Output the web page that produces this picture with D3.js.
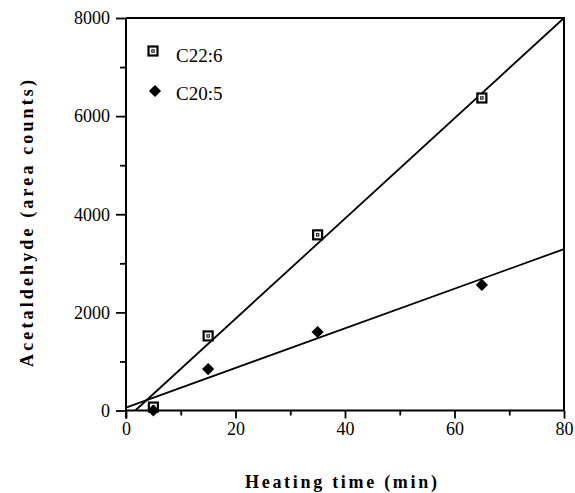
<!DOCTYPE html>
<html>
<head>
<meta charset="utf-8">
<script src="https://cdn.jsdelivr.net/npm/d3@7"></script>
<style>
  body { margin: 0; background: #fff; }
</style>
</head>
<body>
<div id="chart"></div>
<script>
// heating time (min)
const times = [5, 15, 35, 65];
// acetaldehyde area counts
const c22 = [70, 1520, 3580, 6370];
const c20 = [0, 845, 1600, 2560];
// fitted lines (endpoints)
const fitC22 = [[1.7, 0], [80, 8000]];
const fitC20 = [[0, 60], [80, 3290]];

const xTicks = [0, 20, 40, 60, 80];
const xMinor = [10, 30, 50, 70];
const yTicks = [0, 2000, 4000, 6000, 8000];
const yMinor = [1000, 3000, 5000, 7000];
const seriesNames = ["C22:6", "C20:5"];

const width = 575, height = 493;
const serif = "Times New Roman, Times, Liberation Serif, Tinos, DejaVu Serif, Noto Serif, serif";
const x = d3.scaleLinear().domain([0, 80]).range([126, 564]);
const y = d3.scaleLinear().domain([0, 8000]).range([410.5, 18]);

const svg = d3.select("#chart").append("svg")
    .attr("width", width)
    .attr("height", height);

// frame (top + right)
svg.append("path")
    .attr("d", `M${x(0)},${y(8000)}H${x(80)}V${y(0)}`)
    .attr("fill", "none")
    .attr("stroke", "#000")
    .attr("stroke-width", 2);

const xAxis = svg.append("g")
    .attr("transform", `translate(0,${y(0)})`)
    .call(d3.axisBottom(x).tickValues(xTicks).tickSize(8).tickPadding(4).tickFormat(d3.format("d")));
svg.append("g")
    .attr("transform", `translate(0,${y(0)})`)
    .call(d3.axisBottom(x).tickValues(xMinor).tickSize(5).tickFormat(""))
    .call(g => g.select(".domain").remove());

const yAxis = svg.append("g")
    .attr("transform", `translate(${x(0)},0)`)
    .call(d3.axisLeft(y).tickValues(yTicks).tickSize(10).tickPadding(6).tickFormat(d3.format("d")));
svg.append("g")
    .attr("transform", `translate(${x(0)},0)`)
    .call(d3.axisLeft(y).tickValues(yMinor).tickSize(6).tickFormat(""))
    .call(g => g.select(".domain").remove());

// plain domains without end caps
xAxis.select(".domain").attr("d", `M${x(0)},0H${x(80)}`).attr("stroke-width", 2);
yAxis.select(".domain").attr("d", `M0,${y(0) + 8}V${y(8000)}`).attr("stroke-width", 2);
svg.selectAll(".tick line").attr("stroke-width", 1.8);
svg.selectAll("g").attr("font-family", serif);
svg.selectAll(".tick text")
    .style("font-family", serif)
    .attr("font-size", 18)
    .attr("fill", "#000");

// fit lines
const line = d3.line().x(d => x(d[0])).y(d => y(d[1]));
[fitC22, fitC20].forEach(f => {
    svg.append("path")
        .attr("d", line(f))
        .attr("fill", "none")
        .attr("stroke", "#000")
        .attr("stroke-width", 1.8);
});

// markers
function square(g, cx, cy) {
    g.append("rect")
        .attr("x", cx - 4.5).attr("y", cy - 4.5)
        .attr("width", 9).attr("height", 9)
        .attr("fill", "#fff").attr("stroke", "#000").attr("stroke-width", 2.2);
    g.append("rect")
        .attr("x", cx - 1.2).attr("y", cy - 1.2)
        .attr("width", 2.4).attr("height", 2.4)
        .attr("fill", "none").attr("stroke", "#000").attr("stroke-width", 1);
}
const diamond = d3.symbol().type(d3.symbolDiamond2).size(95);
function dia(g, cx, cy) {
    g.append("path")
        .attr("d", diamond())
        .attr("transform", `translate(${cx},${cy})`)
        .attr("fill", "#000");
}

const pts = svg.append("g");
times.forEach((t, i) => {
    square(pts, x(t), y(c22[i]));
    dia(pts, x(t), y(c20[i]));
});

// legend
const leg = svg.append("g");
square(leg, 153, 51);
dia(leg, 155, 91);
leg.selectAll("text").data(seriesNames).enter().append("text")
    .attr("x", 176)
    .attr("y", (d, i) => [62, 100][i])
    .style("font-family", serif)
    .attr("font-size", 19)
    .text(d => d);

// axis titles
svg.append("text")
    .attr("x", 341).attr("y", 488)
    .attr("text-anchor", "middle")
    .style("font-family", serif)
    .attr("font-size", 18).attr("font-weight", "bold")
    .attr("textLength", 192).attr("lengthAdjust", "spacing")
    .text("Heating time (min)");

svg.append("text")
    .attr("transform", "translate(33,223.5) rotate(-90)")
    .attr("text-anchor", "middle")
    .style("font-family", serif)
    .attr("font-size", 18).attr("font-weight", "bold")
    .attr("textLength", 287).attr("lengthAdjust", "spacing")
    .text("Acetaldehyde (area counts)");
</script>
</body>
</html>
